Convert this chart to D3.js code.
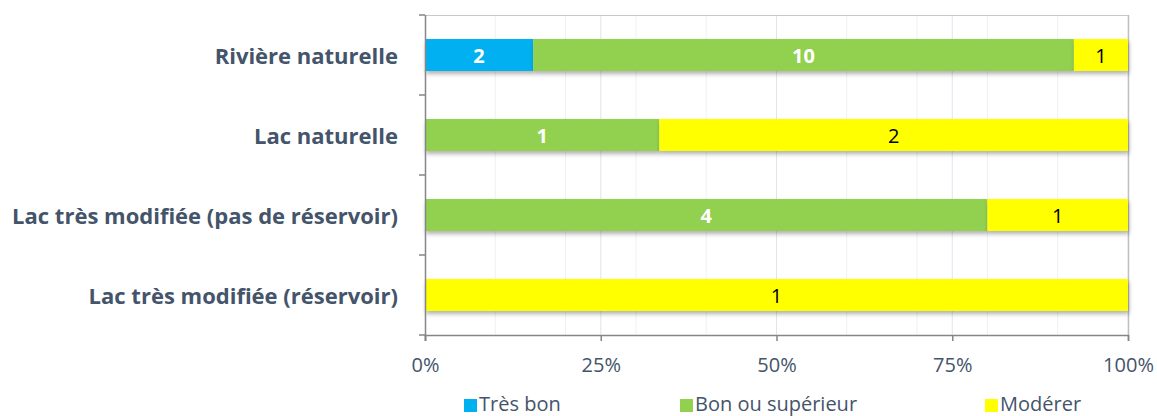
<!DOCTYPE html>
<html>
<head>
    <meta charset="utf-8">
    <title></title>
    <script src="https://d3js.org/d3.v7.min.js"></script>
    <style>
        html, body { margin: 0; padding: 0; background: white; }
    </style>
</head>
<body>
    <div id="chart"></div>
    <script>
        // Categories (top to bottom) and series counts
        const categories = [
            "Rivière naturelle",
            "Lac naturelle",
            "Lac très modifiée (pas de réservoir)",
            "Lac très modifiée (réservoir)"
        ];
        const seriesNames = ["Très bon", "Bon ou supérieur", "Modérer"];
        const tresBon = [2, 0, 0, 0];
        const bonOuSuperieur = [10, 1, 4, 0];
        const moderer = [1, 2, 1, 1];
        const tickLabels = ["0%", "25%", "50%", "75%", "100%"];

        const colors = ["#00B0F0", "#92D050", "#FFFF00"];
        const labelColors = ["white", "white", "black"];
        const labelWeights = ["bold", "bold", "normal"];

        const W = 1157, H = 416;
        const margins = { top: 15, right: 29, bottom: 81, left: 425 };
        const width = W - margins.left - margins.right;
        const height = H - margins.top - margins.bottom;

        const svg = d3.select("#chart").append("svg")
            .attr("width", W).attr("height", H)
            .style("font-family", "'Open Sans', sans-serif");

        const defs = svg.append("defs");
        defs.append("filter").attr("id", "shadow")
            .attr("x", "-5%").attr("y", "-20%").attr("width", "110%").attr("height", "160%")
            .append("feDropShadow")
            .attr("dx", 1).attr("dy", 3).attr("stdDeviation", 2)
            .attr("flood-color", "#000").attr("flood-opacity", 0.3);

        const g = svg.append("g").attr("transform", `translate(${margins.left},${margins.top})`);

        const x = d3.scaleLinear().domain([0, 1]).range([0, width]);
        const y = d3.scaleBand().domain(categories).range([0, height]).paddingInner(0.6).paddingOuter(0.3);

        // build stacked table of shares
        const table = categories.map((c, i) => {
            const vals = [tresBon[i], bonOuSuperieur[i], moderer[i]];
            const total = d3.sum(vals);
            const row = { category: c };
            seriesNames.forEach((s, j) => { row[s] = vals[j] / total; row[s + "_n"] = vals[j]; });
            return row;
        });
        const stacked = d3.stack().keys(seriesNames)(table);

        // gridlines: minor every 10%, major every 25%
        const gridVals = d3.range(0.1, 1.0001, 0.1).concat([0.25, 0.5, 0.75]);
        g.selectAll(".grid").data(gridVals).enter().append("line")
            .attr("x1", d => x(d)).attr("x2", d => x(d))
            .attr("y1", 0).attr("y2", height)
            .attr("stroke", d => [0.25, 0.5, 0.75].includes(d) ? "#E0E4EC" : "#EEF0F4")
            .attr("stroke-width", 1);

        // top and right border
        g.append("line").attr("x1", 0).attr("x2", width).attr("y1", 0.5).attr("y2", 0.5)
            .attr("stroke", "#C8C8C8");
        g.append("line").attr("x1", width + 0.5).attr("x2", width + 0.5).attr("y1", 0).attr("y2", height)
            .attr("stroke", "#BFBFBF").attr("stroke-width", 1.5);

        // bars
        stacked.forEach((layer, j) => {
            const grp = g.append("g").attr("filter", "url(#shadow)");
            grp.selectAll("rect").data(layer.filter(d => d[1] - d[0] > 0)).enter().append("rect")
                .attr("x", d => x(d[0]))
                .attr("y", d => y(d.data.category))
                .attr("width", d => x(d[1]) - x(d[0]))
                .attr("height", y.bandwidth())
                .attr("fill", colors[j]);
        });

        // value labels
        stacked.forEach((layer, j) => {
            g.selectAll(".lbl" + j).data(layer.filter(d => d[1] - d[0] > 0)).enter().append("text")
                .attr("x", d => x((d[0] + d[1]) / 2))
                .attr("y", d => y(d.data.category) + y.bandwidth() / 2)
                .attr("text-anchor", "middle")
                .attr("dominant-baseline", "central")
                .attr("fill", labelColors[j])
                .style("font-size", "20px")
                .style("font-weight", labelWeights[j])
                .text(d => d.data[seriesNames[j] + "_n"]);
        });

        // y axis with ticks at category boundaries
        const bounds = d3.range(categories.length + 1).map(i => i * height / categories.length);
        g.append("line").attr("x1", 0.5).attr("x2", 0.5).attr("y1", 0).attr("y2", height + 6)
            .attr("stroke", "#868686").attr("stroke-width", 1.5);
        g.selectAll(".ytick").data(bounds).enter().append("line")
            .attr("x1", -6).attr("x2", 0).attr("y1", d => d).attr("y2", d => d)
            .attr("stroke", "#868686").attr("stroke-width", 1.5);
        g.selectAll(".ylab").data(categories).enter().append("text")
            .attr("x", -27)
            .attr("y", d => y(d) + y.bandwidth() / 2)
            .attr("text-anchor", "end")
            .attr("dominant-baseline", "central")
            .attr("fill", "#44546A")
            .style("font-size", "22px")
            .style("font-weight", "bold")
            .text(d => d);

        // x axis
        const xAxis = d3.axisBottom(x)
            .tickValues([0, 0.25, 0.5, 0.75, 1])
            .tickFormat((d, i) => tickLabels[i])
            .tickSize(6).tickPadding(12);
        const xg = g.append("g").attr("transform", `translate(0,${height})`).call(xAxis);
        xg.select(".domain").attr("stroke", "#868686").attr("stroke-width", 1.5);
        xg.selectAll(".tick line").attr("stroke", "#868686").attr("stroke-width", 1.5);
        xg.selectAll(".tick text").attr("fill", "#44546A")
            .attr("y", 30).attr("dy", "0.35em")
            .style("font-size", "20px").style("font-family", "'Open Sans', sans-serif");

        // legend
        const legendX = [464, 680, 985];
        const legend = svg.append("g");
        seriesNames.forEach((s, j) => {
            const lg = legend.append("g").attr("transform", `translate(${legendX[j]},411)`);
            lg.append("rect").attr("x", 0).attr("y", -12).attr("width", 13).attr("height", 13)
                .attr("fill", colors[j]);
            lg.append("text").attr("x", 15).attr("y", 0)
                .attr("fill", "#44546A")
                .style("font-size", "20px")
                .text(s);
        });
    </script>
</body>
</html>
